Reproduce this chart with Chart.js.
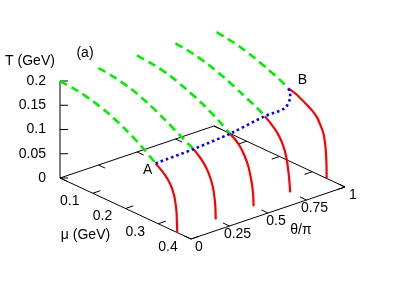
<!DOCTYPE html>
<html>
<head>
<meta charset="utf-8">
<script src="https://cdn.jsdelivr.net/npm/chart.js@4.4.0/dist/chart.umd.min.js"></script>
<style>
  html, body { margin: 0; padding: 0; background: #fff; }
  #wrap { width: 407px; height: 285px; }
</style>
</head>
<body>
<div id="wrap"><canvas id="phaseChart" width="407" height="285"></canvas></div>
<script>
// axis ticks
const muTicks = [0.1, 0.2, 0.3, 0.4];
const thetaTicks = [0, 0.25, 0.5, 0.75, 1];
const thetaTickLabels = ['0', '0.25', '0.5', '0.75', '1'];
const tTicks = [0, 0.05, 0.1, 0.15, 0.2];
const tTickLabels = ['0', '0.05', '0.1', '0.15', '0.2'];

// phase boundary at theta/pi = 0, 0.25, 0.5, 0.75, 1
const curveTheta = [0, 0.25, 0.5, 0.75, 1];
// crossover part (green dashed)
const crossMu = [
    [0, 0.05, 0.10, 0.15, 0.20, 0.25, 0.292],
    [0, 0.05, 0.10, 0.15, 0.20, 0.25, 0.290],
    [0, 0.05, 0.10, 0.15, 0.20, 0.25, 0.284],
    [0, 0.05, 0.10, 0.15, 0.20, 0.25, 0.273],
    [0.008, 0.04, 0.08, 0.12, 0.16, 0.20, 0.227]
];
const crossT = [
    [0.200, 0.197, 0.190, 0.179, 0.163, 0.143, 0.122],
    [0.200, 0.196, 0.188, 0.175, 0.158, 0.139, 0.124],
    [0.199, 0.196, 0.189, 0.177, 0.162, 0.143, 0.127],
    [0.197, 0.193, 0.185, 0.173, 0.158, 0.142, 0.133],
    [0.196, 0.193, 0.188, 0.180, 0.170, 0.159, 0.149]
];
// first order part (red solid)
const firstMu = [
    [0.292, 0.306, 0.321, 0.333, 0.342, 0.349, 0.353, 0.356, 0.357, 0.358],
    [0.290, 0.305, 0.320, 0.333, 0.343, 0.350, 0.354, 0.357, 0.358],
    [0.284, 0.300, 0.315, 0.328, 0.340, 0.347, 0.352, 0.355, 0.356],
    [0.273, 0.290, 0.309, 0.323, 0.334, 0.340, 0.344, 0.347, 0.349, 0.350],
    [0.227, 0.253, 0.278, 0.298, 0.314, 0.325, 0.334, 0.339, 0.342, 0.3435, 0.344]
];
const firstT = [
    [0.122, 0.115, 0.107, 0.097, 0.086, 0.072, 0.057, 0.040, 0.020, 0.0],
    [0.124, 0.116, 0.106, 0.093, 0.078, 0.062, 0.045, 0.025, 0.0],
    [0.127, 0.120, 0.110, 0.096, 0.077, 0.058, 0.040, 0.020, 0.0],
    [0.133, 0.124, 0.112, 0.098, 0.080, 0.063, 0.045, 0.028, 0.012, 0.0],
    [0.149, 0.144, 0.135, 0.127, 0.117, 0.104, 0.090, 0.072, 0.051, 0.028, 0.0]
];
// critical end point line (blue dotted), A -> B
const cepTheta = [0, 0.25, 0.5, 0.75, 0.88, 0.96, 0.99, 1];
const cepMu = [0.292, 0.290, 0.284, 0.273, 0.272, 0.251, 0.236, 0.227];
const cepT = [0.122, 0.124, 0.127, 0.133, 0.135, 0.140, 0.146, 0.149];

const muMax = 0.4, thMax = 1, tMax = 0.2;

// simple fixed 3d view: (mu, theta/pi, T) -> plot units
function proj(mu, th, t) {
    return {
        x: 60 + mu * 327.5 + th * 154,
        y: 178 + mu * 152.5 - th * 52 - t * 485
    };
}

function seg(a, b) {
    return {
        data: [a, b],
        showLine: true, borderColor: '#000', borderWidth: 1,
        pointRadius: 0, order: 5
    };
}

const datasets = [];

// box
datasets.push(seg(proj(0, 0, 0), proj(muMax, 0, 0)));
datasets.push(seg(proj(muMax, 0, 0), proj(muMax, thMax, 0)));
datasets.push(seg(proj(0, 0, 0), proj(0, thMax, 0)));
datasets.push(seg(proj(0, thMax, 0), proj(muMax, thMax, 0)));
datasets.push(seg(proj(0, 0, 0), proj(0, 0, tMax)));

// ticks
muTicks.forEach(m => {
    datasets.push(seg(proj(m, 0, 0), proj(m, 0.05, 0)));
    datasets.push(seg(proj(m, thMax, 0), proj(m, thMax - 0.05, 0)));
});
thetaTicks.forEach(th => {
    datasets.push(seg(proj(muMax, th, 0), proj(muMax - 0.02, th, 0)));
    datasets.push(seg(proj(0, th, 0), proj(0.02, th, 0)));
});
tTicks.forEach(t => {
    const p = proj(0, 0, t);
    datasets.push(seg(p, {x: p.x + 8, y: p.y}));
});

curveTheta.forEach((th, i) => {
    datasets.push({
        data: crossMu[i].map((m, j) => proj(m, th, crossT[i][j])),
        showLine: true, borderColor: '#00ee00', borderWidth: 2.6,
        borderDash: [8, 5], pointRadius: 0, tension: 0.3, order: 4
    });
    datasets.push({
        data: firstMu[i].map((m, j) => proj(m, th, firstT[i][j])),
        showLine: true, borderColor: '#ff0000', borderWidth: 2.2,
        pointRadius: 0, tension: 0.12, order: 3
    });
});

datasets.push({
    data: cepTheta.map((th, j) => proj(cepMu[j], th, cepT[j])),
    showLine: true, borderColor: '#0000ff', borderWidth: 2.6,
    borderDash: [2.5, 3], pointRadius: 0, tension: 0.3, order: 1
});

const textPlugin = {
    id: 'texts',
    afterDatasetsDraw(chart) {
        const {ctx, scales: {x, y}} = chart;
        const put = (str, p, dx, dy, align) => {
            ctx.textAlign = align || 'center';
            ctx.fillText(str, x.getPixelForValue(p.x) + dx, y.getPixelForValue(p.y) + dy);
        };
        ctx.save();
        ctx.fillStyle = '#000';
        ctx.font = '14px "Liberation Sans", Arial, sans-serif';
        ctx.textBaseline = 'middle';

        tTicks.forEach((t, i) => put(tTickLabels[i], proj(0, 0, t), -14, 0, 'right'));
        muTicks.forEach(m => put(String(m), proj(m, 0, 0), -23, 8));
        thetaTicks.forEach((th, i) => put(thetaTickLabels[i], proj(muMax, th, 0), 8, 8));

        put('T (GeV)', proj(0, 0, tMax), -30, -20);
        put('(a)', proj(0, 0, tMax), 25, -28);
        put('\u03bc (GeV)', proj(muMax / 2, 0, 0), -40, 27);
        put('\u03b8/\u03c0', proj(muMax, 0.5, 0), 33, 17);

        const n = cepTheta.length - 1;
        put('A', proj(cepMu[0], cepTheta[0], cepT[0]), -8, 7);
        put('B', proj(cepMu[n], cepTheta[n], cepT[n]), 14, -8);
        ctx.restore();
    }
};

new Chart(document.getElementById('phaseChart').getContext('2d'), {
    type: 'scatter',
    data: { datasets: datasets },
    options: {
        responsive: false,
        devicePixelRatio: 1,
        animation: false,
        layout: { padding: 0 },
        plugins: { legend: { display: false }, tooltip: { enabled: false } },
        elements: { line: { borderCapStyle: 'butt' } },
        scales: {
            x: { type: 'linear', min: 0, max: 407, display: false },
            y: { type: 'linear', min: 0, max: 285, reverse: true, display: false }
        }
    },
    plugins: [textPlugin]
});
</script>
</body>
</html>
